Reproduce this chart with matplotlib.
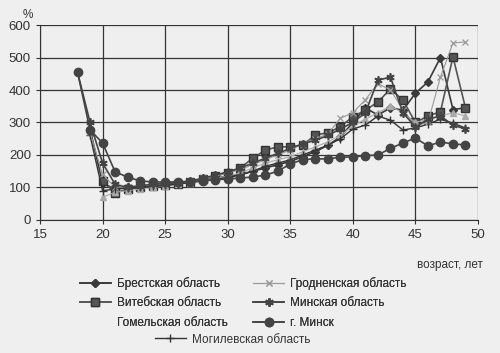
import numpy as np
import matplotlib
matplotlib.use("Agg")
import matplotlib.pyplot as plt
from matplotlib.lines import Line2D

plt.rcParams['font.family'] = ['Liberation Sans', 'DejaVu Sans']

ages = list(range(18, 50))
nan = np.nan

brest = [nan, 280, 113, 95, 100, 102, 105, 108, 112, 118, 122, 128, 135, 140, 150, 160,
         170, 180, 195, 210, 230, 255, 300, 345, 323, 345, 338, 390, 425, 500, 340, 345]
vitebsk = [nan, nan, 120, 83, 95, 100, 105, 108, 112, 118, 125, 135, 145, 160, 190, 215,
           225, 225, 230, 262, 268, 287, 318, 338, 363, 403, 369, 300, 320, 333, 502, 345]
gomel = [nan, nan, 70, 85, 90, 95, 100, 105, 110, 115, 120, 128, 135, 145, 160, 175,
         185, 195, 210, 225, 240, 260, 290, 310, 330, 350, 330, 300, 310, 320, 330, 320]
mogilev = [nan, 260, 90, 95, 98, 100, 103, 106, 110, 115, 120, 125, 130, 138, 150, 165,
           175, 185, 200, 215, 230, 250, 280, 292, 320, 307, 277, 283, 295, 310, 298, 283]
grodno = [nan, 270, 140, 100, 102, 105, 108, 112, 116, 120, 128, 135, 145, 155, 170, 185,
          200, 215, 235, 250, 265, 313, 330, 370, 420, 400, 340, 290, 300, 440, 545, 548]
minsk_obl = [455, 300, 175, 110, 100, 105, 110, 112, 115, 120, 128, 138, 148, 160, 175, 190,
             205, 220, 235, 245, 260, 280, 300, 330, 430, 440, 330, 286, 310, 320, 292, 280]
minsk_city = [455, 277, 237, 148, 132, 120, 117, 117, 117, 118, 120, 124, 126, 129, 132, 138,
              150, 172, 186, 188, 188, 193, 194, 198, 200, 220, 237, 252, 228, 240, 234, 231]

labels = ["Брестская область", "Витебская область", "Гомельская область",
          "Могилевская область", "Гродненская область", "Минская область", "г. Минск"]

bg = '#efefef'
fig = plt.figure(figsize=(5.0, 3.53), dpi=100, facecolor=bg)
ax = fig.add_axes([0.08, 0.377, 0.876, 0.552], facecolor=bg)

styles = [
    dict(color='#3a3a3a', marker='D', ms=4.5, lw=1.2),
    dict(color='#555555', marker='s', ms=5.5, lw=1.2, mec='#333333'),
    dict(color='#aaaaaa', marker='^', ms=4, lw=0.8),
    dict(color='#333333', marker='+', ms=6, lw=1.0, mew=1.0),
    dict(color='#999999', marker='x', ms=5, lw=0.8, mew=0.9),
    dict(color='#444444', marker=(6, 2, 0), ms=6, lw=1.2, mew=1.2),
    dict(color='#444444', marker='o', ms=6, lw=1.2),
]
series = [brest, vitebsk, gomel, mogilev, grodno, minsk_obl, minsk_city]
lines = []
for data, st, lab in zip(series, styles, labels):
    l, = ax.plot(ages, data, label=lab, **st)
    lines.append(l)

ax.set_xlim(15, 50)
ax.set_ylim(0, 600)
ax.set_xticks(range(15, 51, 5))
ax.set_yticks(range(0, 601, 100))
ax.grid(True, color='#333333', lw=0.9)
ax.set_axisbelow(True)
for s in ['top', 'right']:
    ax.spines[s].set_visible(False)
for s in ['left', 'bottom']:
    ax.spines[s].set_color('#333333')
ax.tick_params(labelsize=9.5, colors='#333333', length=3, direction='out')

fig.text(0.046, 0.975, '%', fontsize=8.5, color='#333333', ha='left', va='top')
fig.text(0.966, 0.25, 'возраст, лет', fontsize=8.5, color='#333333', ha='right', va='center')

gomel_handle = Line2D([], [], color=bg, lw=0)
h1 = [lines[0], lines[1], gomel_handle, lines[4], lines[5], lines[6]]
l1 = [labels[0], labels[1], labels[2], labels[4], labels[5], labels[6]]
leg1 = fig.legend(h1, l1, ncol=2, loc='upper left', bbox_to_anchor=(0.16, 0.215),
                  frameon=False, fontsize=8.5, labelspacing=0.62, handlelength=2.6,
                  handletextpad=0.5, columnspacing=2.2, borderaxespad=0, borderpad=0,
                  labelcolor='#333333')
leg2 = fig.legend([lines[3]], [labels[3]], loc='upper left', bbox_to_anchor=(0.31, 0.055),
                  frameon=False, fontsize=8.5, handlelength=2.6, handletextpad=0.5,
                  borderaxespad=0, borderpad=0, labelcolor='#333333')
fig.add_artist(leg1)

fig.savefig('out.png', dpi=100, facecolor=bg)
